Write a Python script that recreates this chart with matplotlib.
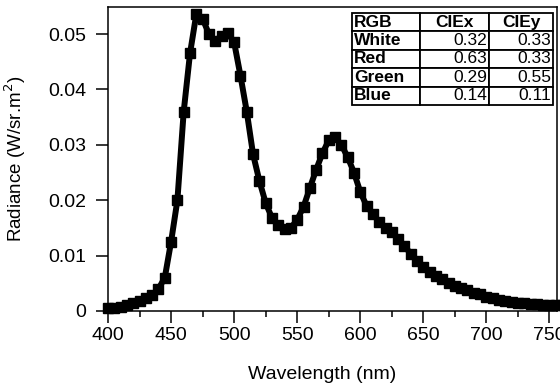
import matplotlib
matplotlib.use("Agg")
import matplotlib.pyplot as plt
import numpy as np

plt.rcParams['font.family'] = ['Liberation Sans', 'DejaVu Sans']

# spectrum, one point every 5 nm
wavelength = np.arange(400, 765, 5)
radiance = [
    0.0005, 0.0006, 0.0007, 0.0010, 0.0014, 0.0018, 0.0023, 0.0028, 0.0040, 0.0060,
    0.0125, 0.0200, 0.0360, 0.0465, 0.0536, 0.0528, 0.0500, 0.0488, 0.0497, 0.0502,
    0.0485, 0.0425, 0.0360, 0.0283, 0.0235, 0.0195, 0.0168, 0.0155, 0.0148, 0.0150,
    0.0165, 0.0188, 0.0222, 0.0255, 0.0285, 0.0308, 0.0314, 0.0300, 0.0278, 0.0250,
    0.0215, 0.0190, 0.0175, 0.0161, 0.0150, 0.0142, 0.0130, 0.0118, 0.0103, 0.0091,
    0.0080, 0.0070, 0.0063, 0.0057, 0.0051, 0.0046, 0.0042, 0.0037, 0.0033, 0.0030,
    0.0026, 0.0023, 0.0020, 0.0018, 0.0017, 0.0015, 0.0014, 0.0013, 0.0012, 0.0011,
    0.0011, 0.0010, 0.0010,
]

# chromaticity table
rgb_names = ["White", "Red", "Green", "Blue"]
cie_x = ["0.32", "0.63", "0.29", "0.14"]
cie_y = ["0.33", "0.33", "0.55", "0.11"]
col_labels = ["RGB", "CIEx", "CIEy"]

fig = plt.figure(figsize=(5.6, 3.88), dpi=100)
ax = fig.add_axes([0.1929, 0.1985, 0.8018, 0.7835])

ax.plot(wavelength, radiance, color="black", linewidth=4.3, marker="s",
        markersize=6.5, clip_on=False)

ax.set_xlim(400, 756)
ax.set_ylim(0, 0.0549)
ax.set_xticks(np.arange(400, 751, 50))
ax.set_xticks(np.arange(425, 751, 50), minor=True)
ax.set_yticks([0, 0.01, 0.02, 0.03, 0.04, 0.05])
ax.set_yticklabels(["0", "0.01", "0.02", "0.03", "0.04", "0.05"])

ax.tick_params(axis="both", which="major", direction="out", length=8.5, width=1.1,
               labelsize=14)
ax.tick_params(axis="y", which="major", pad=7)
ax.tick_params(axis="x", which="major", pad=3)
ax.tick_params(axis="x", which="minor", direction="out", length=4.5, width=1.1)
for s in ax.spines.values():
    s.set_linewidth(1.1)

ax.set_xlabel("Wavelength (nm)", fontsize=14)
ax.set_ylabel("Radiance (W/sr.m$^2$)", fontsize=13.5)
ax.xaxis.set_label_coords(0.477, -0.18)
ax.yaxis.set_label_coords(-0.178, 0.5)

# table in the top right corner
cells = [[n, x, y] for n, x, y in zip(rgb_names, cie_x, cie_y)]
tab = ax.table(cellText=cells, colLabels=col_labels,
               bbox=[0.5434, 0.678, 0.448, 0.302], colWidths=[68, 70, 64])
tab.auto_set_font_size(False)
for (r, c), cell in tab.get_celld().items():
    cell.set_linewidth(1.3)
    cell.set_edgecolor("black")
    txt = cell.get_text()
    txt.set_fontsize(12.5)
    if r == 0 or c == 0:
        txt.set_fontweight("bold")
    if c == 0:
        cell._loc = "left"
        txt.set_ha("left")
    elif r == 0:
        cell._loc = "center"
        txt.set_ha("center")
    else:
        cell._loc = "right"
        txt.set_ha("right")
    cell.PAD = 0.03

fig.savefig("out.png", dpi=100)
